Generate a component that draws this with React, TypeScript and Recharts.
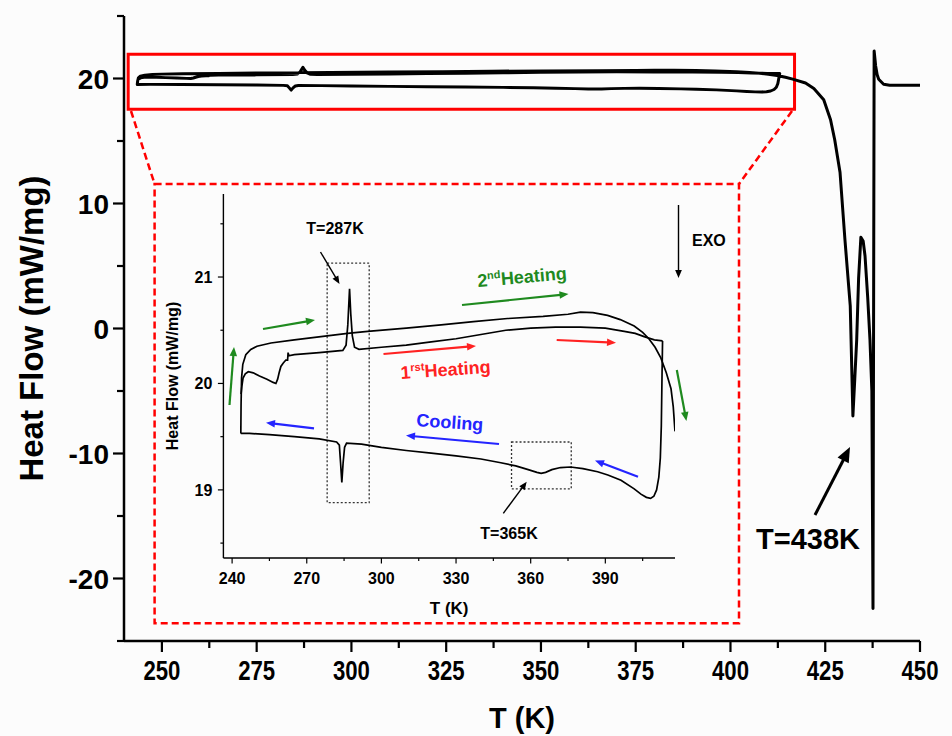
import { LineChart, Line, XAxis, YAxis, ReferenceArea } from "recharts";

const FONT = '"Liberation Sans", Arial, sans-serif';

// DSC runs, [T (K), heat flow (mW/mg)]
const heating1: [number, number][] = [
  [243.6, 19.9], [243.9, 19.97], [244.4, 20.05], [245.3, 20.09], [246.5, 20.11], [248.5, 20.1],
  [251, 20.07], [254, 20.04], [256.5, 20.01], [257.6, 20.0], [258.3, 20.04], [258.9, 20.1],
  [259.6, 20.16], [260.5, 20.19], [261.6, 20.22], [262.3, 20.22], [262.5, 20.29], [262.8, 20.26],
  [265, 20.27], [275, 20.29], [284.5, 20.31], [285.8, 20.36], [286.5, 20.55], [287.2, 20.89],
  [287.7, 20.65], [288.3, 20.45], [289.2, 20.34], [291, 20.32], [300, 20.34], [310, 20.36],
  [320, 20.39], [330, 20.42], [340, 20.46], [350, 20.5], [360, 20.52], [370, 20.53], [380, 20.53],
  [390, 20.52], [397.6, 20.49], [402, 20.47], [405.6, 20.44], [409.7, 20.41], [413, 20.4],
];

const cooling: [number, number][] = [
  [413, 20.4], [412.8, 20.1], [412.5, 19.6], [412.1, 19.3], [411.5, 19.12], [410.6, 19.0],
  [409.5, 18.94], [408.2, 18.92], [406.5, 18.93], [404.3, 18.96], [401.6, 19.01], [396.3, 19.09],
  [391, 19.14], [386.9, 19.17], [381, 19.2], [376, 19.215], [372, 19.21], [368.5, 19.19],
  [366, 19.165], [364.2, 19.155], [362.5, 19.165], [359, 19.19], [354, 19.225], [348, 19.255],
  [340, 19.29], [330, 19.32], [320, 19.345], [310, 19.37], [300, 19.4], [292, 19.43], [286, 19.44],
  [285.2, 19.4], [284.6, 19.25], [284.1, 19.07], [283.6, 19.25], [283.1, 19.42], [282, 19.45],
  [275, 19.48], [265, 19.5], [255, 19.52], [247, 19.53], [243.5, 19.53],
];

const heating2: [number, number][] = [
  [243.5, 19.53], [243.6, 19.8], [243.8, 20.05], [244.3, 20.18], [245.5, 20.27], [247.5, 20.32],
  [250, 20.35], [255.6, 20.38], [265, 20.41], [275.7, 20.44], [286.4, 20.47], [294.5, 20.49],
  [310, 20.52], [324, 20.55], [337, 20.58], [350.7, 20.61], [365, 20.63], [375, 20.65], [380, 20.67],
  [385, 20.665], [390.9, 20.64], [396, 20.6], [401.6, 20.54], [405, 20.48], [407.5, 20.42],
  [410, 20.34], [412.3, 20.24], [414.5, 20.1], [416.4, 19.95], [417.3, 19.78], [418, 19.55],
];

// melting region, only in the main plot
const melting: [number, number][] = [
  [419.8, 19.64], [422, 19.2], [424.6, 18.3], [426.4, 16.7], [427.5, 15.1], [428.9, 12.5],
  [430.2, 7.1], [431.6, 1.8], [432.3, -7.0], [432.8, -4.0], [433.3, -0.9], [433.8, 4.0],
  [434.4, 7.3], [435, 7.0], [435.5, 5.8], [436.2, 2.5], [436.8, -0.9], [437.3, -5.0],
  [437.6, -22.4], [437.9, 22.2], [438.3, 21.0], [438.7, 20.3], [439.1, 19.94], [440.4, 19.54],
  [442, 19.46], [450, 19.46],
];

const mainXTicks = [250, 275, 300, 325, 350, 375, 400, 425, 450];
const mainXMinor = [262.5, 287.5, 312.5, 337.5, 362.5, 387.5, 412.5, 437.5];
const mainYTicks = [-20, -10, 0, 10, 20];
const mainYMinor = [-25, -15, -5, 5, 15, 25];
const insetXTicks = [240, 270, 300, 330, 360, 390];
const insetXMinor = [255, 285, 315, 345, 375, 405];
const insetYTicks = [19, 20, 21];
const insetYMinor = [18.5, 19.5, 20.5, 21.5];

const toRows = (pts: [number, number][]) => pts.map(([T, hf]) => ({ T, hf }));
const sortNum = (a: number[]) => [...a].sort((p, q) => p - q);

const mainData = toRows([
  ...heating1,
  ...cooling.slice(1),
  ...heating2.slice(1).filter((p) => p[0] <= 416.4),
  ...melting,
]);

function MainXTick(props: any) {
  const { x, y, payload } = props;
  const major = mainXTicks.includes(payload.value);
  return (
    <g>
      <line x1={x} x2={x} y1={y} y2={y + (major ? 11 : 7)} stroke="#000" strokeWidth={2.2} />
      {major && (
        <text x={x} y={y + 39} textAnchor="middle" fontFamily={FONT} fontWeight="bold" fontSize={28}
          textLength={37} lengthAdjust="spacingAndGlyphs" fill="#000">
          {payload.value}
        </text>
      )}
    </g>
  );
}

function MainYTick(props: any) {
  const { x, y, payload } = props;
  const major = mainYTicks.includes(payload.value);
  return (
    <g>
      <line x1={x} x2={x - (major ? 11 : 7)} y1={y} y2={y} stroke="#000" strokeWidth={2.2} />
      {major && (
        <text x={x - 15} y={y + 10} textAnchor="end" fontFamily={FONT} fontWeight="bold" fontSize={28} fill="#000">
          {payload.value}
        </text>
      )}
    </g>
  );
}

function InsetXTick(props: any) {
  const { x, y, payload } = props;
  const major = insetXTicks.includes(payload.value);
  return (
    <g>
      <line x1={x} x2={x} y1={y} y2={y + (major ? 5.5 : 3)} stroke="#000" strokeWidth={1.2} />
      {major && (
        <text x={x} y={y + 26} textAnchor="middle" fontFamily={FONT} fontWeight="bold" fontSize={16} fill="#000">
          {payload.value}
        </text>
      )}
    </g>
  );
}

function InsetYTick(props: any) {
  const { x, y, payload } = props;
  const major = insetYTicks.includes(payload.value);
  return (
    <g>
      <line x1={x} x2={x - (major ? 5.5 : 3)} y1={y} y2={y} stroke="#000" strokeWidth={1.2} />
      {major && (
        <text x={x - 11} y={y + 6} textAnchor="end" fontFamily={FONT} fontWeight="bold" fontSize={16} fill="#000">
          {payload.value}
        </text>
      )}
    </g>
  );
}

const yTitle = (text: string, dx: number, size: number) => (props: any) => {
  const { x, y, height } = props.viewBox;
  const cx = x + dx;
  const cy = y + height / 2;
  return (
    <text x={cx} y={cy} transform={`rotate(-90, ${cx}, ${cy})`} textAnchor="middle" dominantBaseline="central"
      fontFamily={FONT} fontWeight="bold" fontSize={size} fill="#000">
      {text}
    </text>
  );
};

const xTitle = (text: string, fromBottom: number, size: number) => (props: any) => {
  const { x, y, width, height } = props.viewBox;
  return (
    <text x={x + width / 2} y={y + height - fromBottom} textAnchor="middle"
      fontFamily={FONT} fontWeight="bold" fontSize={size} fill="#000">
      {text}
    </text>
  );
};

function Arrow({ x1, y1, x2, y2, color, w = 2, head = 9 }: any) {
  const dx = x2 - x1;
  const dy = y2 - y1;
  const len = Math.hypot(dx, dy);
  const ux = dx / len;
  const uy = dy / len;
  const bx = x2 - ux * head;
  const by = y2 - uy * head;
  const hw = head * 0.42;
  const pts = `${x2},${y2} ${bx - uy * hw},${by + ux * hw} ${bx + uy * hw},${by - ux * hw}`;
  return (
    <g>
      <line x1={x1} y1={y1} x2={bx + ux} y2={by + uy} stroke={color} strokeWidth={w} />
      <polygon points={pts} fill={color} />
    </g>
  );
}

const GREEN = "#1f8a1f";
const RED = "#ff2222";
const BLUE = "#2424ff";

export default function App() {
  return (
    <div style={{ position: "absolute", left: 0, top: 0, width: 952, height: 736, background: "#fcfcfc" }}>
      <div style={{ position: "absolute", left: 0, top: 0 }}>
        <LineChart width={952} height={736} margin={{ top: 16, right: 32, left: 0, bottom: 0 }}>
          <XAxis type="number" dataKey="T" domain={[240, 450]} allowDataOverflow
            ticks={sortNum([...mainXTicks, ...mainXMinor])} interval={0}
            tickSize={0} tickMargin={0} tickLine={false} tick={MainXTick}
            axisLine={{ stroke: "#000", strokeWidth: 2.5 }} height={95}
            label={xTitle("T (K)", 8, 29)} />
          <YAxis type="number" domain={[-25, 25]} allowDataOverflow
            ticks={sortNum([...mainYTicks, ...mainYMinor])} interval={0}
            tickSize={0} tickMargin={0} tickLine={false} tick={MainYTick}
            axisLine={{ stroke: "#000", strokeWidth: 2.5 }} width={124}
            label={yTitle("Heat Flow (mW/mg)", 31, 33)} />
          <Line data={mainData} dataKey="hf" type="linear" stroke="#000" strokeWidth={3}
            strokeLinejoin="round" dot={false} activeDot={false} isAnimationActive={false} />
          <ReferenceArea x1={241.1} x2={416.9} y1={17.54} y2={21.95} fill="none" fillOpacity={0}
            stroke="#ff0000" strokeWidth={3} />
        </LineChart>
      </div>

      <div style={{ position: "absolute", left: 154.6, top: 184 }}>
        <LineChart width={585} height={439} margin={{ top: 10, right: 65, left: 0, bottom: 0 }}>
          <XAxis type="number" dataKey="T" domain={[236.5, 418]} allowDataOverflow
            ticks={sortNum([...insetXTicks, ...insetXMinor])} interval={0}
            tickSize={0} tickMargin={0} tickLine={false} tick={InsetXTick}
            axisLine={{ stroke: "#000", strokeWidth: 1.4 }} height={65}
            label={xTitle("T (K)", 9, 17)} />
          <YAxis type="number" domain={[18.36, 21.78]} allowDataOverflow
            ticks={sortNum([...insetYTicks, ...insetYMinor])} interval={0}
            tickSize={0} tickMargin={0} tickLine={false} tick={InsetYTick}
            axisLine={{ stroke: "#000", strokeWidth: 1.4 }} width={68.4}
            label={yTitle("Heat Flow (mW/mg)", 17.4, 16)} />
          <ReferenceArea x1={278.2} x2={295.1} y1={18.88} y2={21.13} fill="none" fillOpacity={0}
            stroke="#333" strokeWidth={1.3} strokeDasharray="2 2" />
          <ReferenceArea x1={352.3} x2={376.3} y1={19.01} y2={19.45} fill="none" fillOpacity={0}
            stroke="#333" strokeWidth={1.3} strokeDasharray="2 2" />
          <Line data={toRows(heating1)} dataKey="hf" type="linear" stroke="#000" strokeWidth={1.7}
            dot={false} activeDot={false} isAnimationActive={false} />
          <Line data={toRows(cooling)} dataKey="hf" type="linear" stroke="#000" strokeWidth={1.7}
            dot={false} activeDot={false} isAnimationActive={false} />
          <Line data={toRows(heating2)} dataKey="hf" type="linear" stroke="#000" strokeWidth={1.7}
            dot={false} activeDot={false} isAnimationActive={false} />
        </LineChart>
      </div>

      <svg width={952} height={736} style={{ position: "absolute", left: 0, top: 0, pointerEvents: "none" }}>
        {/* zoom frame */}
        <rect x={154.6} y={184} width={584.4} height={439.3} fill="none" stroke="#ff0000" strokeWidth={2.5} strokeDasharray="7 4" />
        <line x1={131} y1={111} x2={154.6} y2={184} stroke="#ff0000" strokeWidth={2.5} strokeDasharray="7 4" />
        <line x1={792} y1={111} x2={739} y2={184} stroke="#ff0000" strokeWidth={2.5} strokeDasharray="7 4" />

        {/* main annotation */}
        <Arrow x1={815} y1={515} x2={850} y2={447} color="#000" w={3} head={15} />
        <text x={808} y={549} textAnchor="middle" fontFamily={FONT} fontWeight="bold" fontSize={29}>T=438K</text>

        {/* inset annotations */}
        <text x={335} y={234} textAnchor="middle" fontFamily={FONT} fontWeight="bold" fontSize={16}>T=287K</text>
        <Arrow x1={320.5} y1={252} x2={339.5} y2={284} color="#000" w={1.4} head={8} />
        <text x={509} y={539} textAnchor="middle" fontFamily={FONT} fontWeight="bold" fontSize={16}>T=365K</text>
        <Arrow x1={503.3} y1={513.3} x2={526.7} y2={481.7} color="#000" w={1.4} head={8} />
        <text x={692} y={246} fontFamily={FONT} fontWeight="bold" fontSize={16}>EXO</text>
        <Arrow x1={678.5} y1={205} x2={678.5} y2={278} color="#000" w={1.4} head={8} />

        <text x={478} y={287} transform="rotate(-5, 478, 287)" fontFamily={FONT} fontWeight="bold" fontSize={18} fill={GREEN}>
          2<tspan dy={-7} fontSize={11}>nd</tspan><tspan dy={7}>Heating</tspan>
        </text>
        <text x={401} y={379} transform="rotate(-4, 401, 379)" fontFamily={FONT} fontWeight="bold" fontSize={18} fill={RED}>
          1<tspan dy={-7} fontSize={11}>rst</tspan><tspan dy={7}>Heating</tspan>
        </text>
        <text x={416} y={426} transform="rotate(4, 416, 426)" fontFamily={FONT} fontWeight="bold" fontSize={18} fill={BLUE}>
          Cooling
        </text>

        <Arrow x1={229.5} y1={405} x2={234} y2={347} color={GREEN} w={2.2} head={9} />
        <Arrow x1={263} y1={329} x2={315} y2={320} color={GREEN} w={2.2} head={9} />
        <Arrow x1={462} y1={305} x2={568.5} y2={294} color={GREEN} w={2.2} head={9} />
        <Arrow x1={676.8} y1={370} x2={686.4} y2={421} color={GREEN} w={2.2} head={9} />
        <Arrow x1={383.5} y1={354} x2={476} y2={346} color={RED} w={2.2} head={9} />
        <Arrow x1={556.7} y1={340} x2={616} y2={342.7} color={RED} w={2.2} head={9} />
        <Arrow x1={314} y1={428.3} x2={266} y2={422.7} color={BLUE} w={2.2} head={9} />
        <Arrow x1={499} y1={444} x2={406} y2={435.5} color={BLUE} w={2.2} head={9} />
        <Arrow x1={638} y1={476.7} x2={595} y2={460.5} color={BLUE} w={2.2} head={9} />
      </svg>
    </div>
  );
}
